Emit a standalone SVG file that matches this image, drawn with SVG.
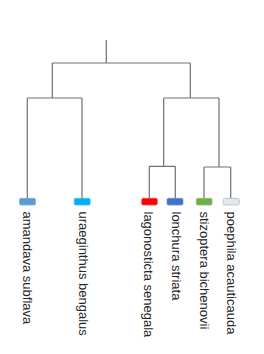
<svg xmlns="http://www.w3.org/2000/svg" width="264" height="354" viewBox="0 0 264 354">
<style>
.ln{stroke:#707070;stroke-width:1.2;fill:none}
.bx{stroke-width:0.8}
.lb{font-family:"Liberation Sans",Arial,sans-serif;font-size:13px;fill:#262626;dominant-baseline:central}
</style>
<rect width="264" height="354" fill="#ffffff"/>
<g id="connectors">
<path class="ln" d="M106.3,40V63M52.3,63H190.3M52.3,63V98M190.3,63V98M27.3,98H82M27.3,98V198.5M82,98V198.5M163.7,98H219M163.7,98V166.3M219,98V167M149.3,166.3H175.3M149.3,166.3V198.5M175.3,166.3V198.5M204,167H230.7M204,167V198.5M230.7,167V198.5"/>
</g>
<g id="n-amandava"><rect class="bx" x="19.5" y="198.3" width="16" height="6.7" rx="1.5" fill="#5b9bd5" stroke="#7aaee0"/><text class="lb" transform="translate(27.5,211.5) rotate(90)">amandava subflava</text></g>
<g id="n-uraeginthus"><rect class="bx" x="74.2" y="198.3" width="16" height="6.7" rx="1.5" fill="#00b0f0" stroke="#40c0f0"/><text class="lb" transform="translate(83.7,211.5) rotate(90)">uraeginthus bengalus</text></g>
<g id="n-lagonosticta"><rect class="bx" x="141.7" y="198.3" width="15.6" height="6.7" rx="1.5" fill="#ff0000" stroke="#ff4040"/><text class="lb" transform="translate(148.7,211.5) rotate(90)">lagonosticta senegala</text></g>
<g id="n-lonchura"><rect class="bx" x="167" y="198.3" width="16" height="6.7" rx="1.5" fill="#4472c4" stroke="#6a8fd0"/><text class="lb" transform="translate(176,211.5) rotate(90)">lonchura striata</text></g>
<g id="n-stizoptera"><rect class="bx" x="196.3" y="198.3" width="15.7" height="6.7" rx="1.5" fill="#70ad47" stroke="#8dbf6a"/><text class="lb" transform="translate(204,211.5) rotate(90)">stizoptera bichenovii</text></g>
<g id="n-poephila"><rect class="bx" x="223.3" y="198.3" width="16" height="6.7" rx="1.5" fill="#e7e6e6" stroke="#a9bdd6"/><text class="lb" transform="translate(231,211.5) rotate(90)">poephila acauticauda</text></g>
</svg>
